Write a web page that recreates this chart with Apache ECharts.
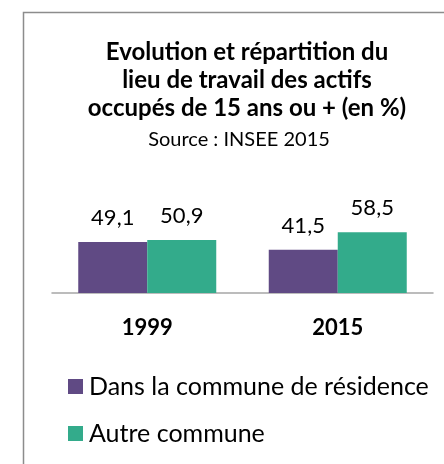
<!DOCTYPE html>
<html>
<head>
<meta charset="utf-8">
<script src="https://cdn.jsdelivr.net/npm/echarts@6/dist/echarts.min.js"></script>
<style>
  html, body { margin: 0; padding: 0; background: #fff; }
  #main { width: 444px; height: 464px; }
</style>
</head>
<body>
<div id="main"></div>
<script>
// données
var annees = ['1999', '2015'];
var dansCommune = [49.1, 41.5];
var autreCommune = [50.9, 58.5];
var nomsSeries = ['Dans la commune de résidence', 'Autre commune'];

var police = 'Lato';
var myChart = echarts.init(document.getElementById('main'));

function fmt(p) {
    return String(p.value).replace('.', ',');
}

var option = {
    animation: false,
    title: [{
        text: 'Evolution et répartition du\nlieu de travail des actifs\noccupés de 15 ans ou + (en %)',
        left: 242,
        textAlign: 'center',
        top: 33,
        textStyle: { fontFamily: police, fontSize: 24, fontWeight: 'bold', color: '#000', lineHeight: 28 }
    }, {
        text: 'Source : INSEE 2015',
        left: 234,
        textAlign: 'center',
        top: 125,
        textStyle: { fontFamily: police, fontSize: 20, fontWeight: 'normal', color: '#000' }
    }],
    graphic: [{
        type: 'rect',
        shape: { x: 23.5, y: 12.5, width: 440, height: 470 },
        style: { fill: 'none', stroke: '#8c8c8c', lineWidth: 1.5 },
        silent: true
    }],
    legend: {
        orient: 'vertical',
        left: 63,
        top: 369,
        itemWidth: 15,
        itemHeight: 15,
        itemGap: 22,
        icon: 'rect',
        textStyle: { fontFamily: police, fontSize: 25, color: '#000', padding: [0, 0, 0, 1] },
        data: nomsSeries
    },
    grid: { left: 52, right: 11, top: 189, bottom: 171 },
    xAxis: {
        type: 'category',
        data: annees,
        axisLine: { lineStyle: { color: '#a6a6a6', width: 1.5 } },
        axisTick: { show: false },
        axisLabel: { fontFamily: police, fontSize: 22, fontWeight: 'bold', color: '#000', margin: 24 }
    },
    yAxis: {
        type: 'value',
        min: 0,
        max: 100,
        show: false
    },
    series: [{
        name: nomsSeries[0],
        type: 'bar',
        data: dansCommune,
        barWidth: 69,
        barGap: '0%',
        itemStyle: { color: '#604a84' },
        label: { show: true, position: 'top', distance: 13, formatter: fmt, fontFamily: police, fontSize: 22, color: '#000' }
    }, {
        name: nomsSeries[1],
        type: 'bar',
        data: autreCommune,
        barWidth: 69,
        itemStyle: { color: '#33ab8b' },
        label: { show: true, position: 'top', distance: 13, formatter: fmt, fontFamily: police, fontSize: 22, color: '#000' }
    }]
};

myChart.setOption(option);
</script>
</body>
</html>
